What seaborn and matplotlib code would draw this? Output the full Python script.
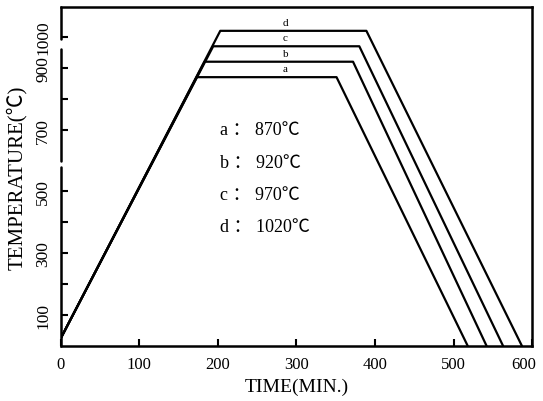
import numpy as np
import pandas as pd
import matplotlib
matplotlib.use("Agg")
import matplotlib.pyplot as plt
import matplotlib.transforms as mtransforms
import seaborn as sns

# heat treatment schedules
curves = ["a", "b", "c", "d"]
hold_temp = [870, 920, 970, 1020]      # deg C
start_temp = 25
heat_end = [173, 183, 194, 203]         # min, end of heating ramp
hold_end = [351, 372, 380, 389]         # min, end of holding
cool_end = [518, 542, 563, 587]         # min, back to 0

x_ticks = [0, 100, 200, 300, 400, 500, 600]
y_ticks = [100, 200, 300, 400, 500, 700, 800, 900, 1000]
y_tick_labels = ["100", "", "300", "", "500", "700", "", "900", "1000"]

legend_lines = ["a ： 870℃", "b ： 920℃", "c ： 970℃", "d ： 1020℃"]

rows = []
for name, T, t1, t2, t3 in zip(curves, hold_temp, heat_end, hold_end, cool_end):
    for t, temp in zip([0, t1, t2, t3], [start_temp, T, T, 0]):
        rows.append({"curve": name, "time": t, "temp": temp})
df = pd.DataFrame(rows)

sns.set_style("ticks", {"axes.edgecolor": "black", "xtick.color": "black",
                        "ytick.color": "black", "text.color": "black",
                        "axes.labelcolor": "black"})
plt.rcParams["font.family"] = ["Liberation Serif", "Noto Sans CJK SC", "DejaVu Serif"]

fig = plt.figure(figsize=(5.43, 4.02), dpi=100)
ax = fig.add_axes([0.112, 0.137, 0.868, 0.843])

sns.lineplot(data=df, x="time", y="temp", units="curve", estimator=None,
             sort=False, color="black", linewidth=1.6, ax=ax)

ax.set_xlim(0, 600)
ax.set_ylim(0, 1097)

# curve labels just above each plateau
for name, T in zip(curves, hold_temp):
    ax.text(286, T + 28, name, fontsize=8, ha="center", va="center")

# legend-like text block
for i, s in enumerate(legend_lines):
    ax.text(203, 699 - i * 104, s, fontsize=13, ha="left", va="center")

ax.set_xticks(x_ticks)
ax.set_xticklabels([str(v) for v in x_ticks], fontsize=12)
ax.set_yticks(y_ticks)
ax.set_yticklabels(y_tick_labels, fontsize=12.5, rotation=90, va="center")
ax.tick_params(direction="in", length=5, width=1.5, pad=7, colors="black")

# nudge the last x label so it stays inside the figure
last = ax.get_xticklabels()[-1]
last.set_transform(last.get_transform() +
                   mtransforms.ScaledTranslation(-6 / 72, 0, fig.dpi_scale_trans))

ax.set_xlabel("TIME(MIN.)", fontsize=14, labelpad=4)
ax.set_ylabel("TEMPERATURE(℃)", fontsize=15, labelpad=6)

for side in ["top", "right", "bottom"]:
    ax.spines[side].set_linewidth(1.8)
ax.spines["left"].set_visible(False)
# broken left axis
for lo, hi in [(0.0, 0.528), (0.546, 0.876), (0.906, 1.0)]:
    ax.axvline(0, ymin=lo, ymax=hi, color="black", linewidth=1.8, clip_on=False)

fig.savefig("out.png", dpi=100)
